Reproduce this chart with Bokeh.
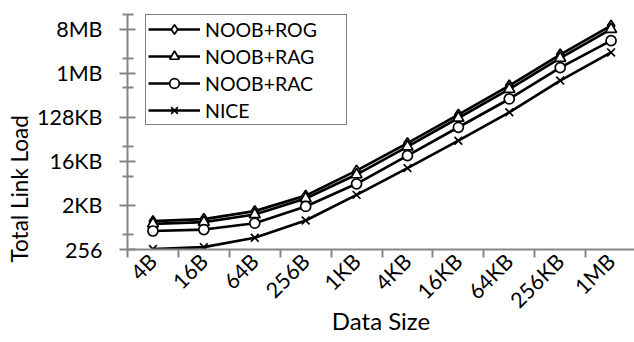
import numpy as np
from bokeh.plotting import figure
from bokeh.models import FixedTicker, Range1d, Legend, LegendItem, Title
from bokeh.embed import file_html
from bokeh.resources import INLINE

categories = ["4B", "16B", "64B", "256B", "1KB", "4KB", "16KB", "64KB", "256KB", "1MB"]
noob_rog = [975, 1075, 1563, 3258, 10590, 38700, 148500, 585800, 2529000, 9907000]
noob_rag = [861, 929, 1333, 2837, 8780, 32770, 126600, 496000, 2141000, 8389000]
noob_rac = [613, 657, 885, 1951, 5673, 21470, 81800, 311700, 1364500, 4885000]
nice = [261, 286, 446, 1003, 3373, 11910, 43540, 165900, 741500, 2806000]
series_names = ["NOOB+ROG", "NOOB+RAG", "NOOB+RAC", "NICE"]
series_markers = ["diamond", "triangle", "circle", "x"]
y_tick_values = [256, 2048, 16384, 131072, 1048576, 8388608]
y_tick_labels = ["256", "2KB", "16KB", "128KB", "1MB", "8MB"]
y_minor_values = [512, 8192, 32768, 524288, 2097152, 16777216]

FONT = "Lato"
AXIS_GRAY = "#868686"

x = np.arange(len(categories)) + 0.5

p = figure(width=634, height=342, output_backend="svg", toolbar_location=None,
           y_axis_type="log", x_range=Range1d(0, 9.96), y_range=Range1d(256, 16777216),
           min_border_left=127, min_border_top=14, min_border_right=0, min_border_bottom=93)
p.outline_line_color = None
p.xgrid.visible = False
p.ygrid.visible = False
p.background_fill_color = "white"
p.border_fill_color = "white"

items = []
marker_sizes = [11, 11, 10, 11]
for name, vals, mk, ms in zip(series_names, [noob_rog, noob_rag, noob_rac, nice], series_markers, marker_sizes):
    lr = p.line(x, vals, line_color="black", line_width=2.7)
    sr = p.scatter(x, vals, marker=mk, size=ms, fill_color="white", line_color="black", line_width=1.7)
    items.append(LegendItem(label=name, renderers=[lr, sr]))

legend = Legend(items=items, location=(18, 124), orientation="vertical",
                label_text_font=FONT, label_text_font_size="19.5px", label_text_color="black",
                glyph_width=52, glyph_height=24, label_height=24, label_width=139, spacing=3,
                padding=2, margin=0, label_standoff=5,
                border_line_color="black", border_line_width=1.5,
                background_fill_color="white", background_fill_alpha=1.0)
p.add_layout(legend)

# x axis
xa = p.xaxis[0]
xa.ticker = FixedTicker(ticks=list(x), minor_ticks=list(range(0, len(categories) + 1)))
xa.major_label_overrides = {float(xi): c for xi, c in zip(x, categories)}
xa.major_label_orientation = np.pi / 4
xa.major_tick_in = 0
xa.major_tick_out = 0
xa.minor_tick_in = 0
xa.minor_tick_out = 8
xa.axis_line_color = AXIS_GRAY
xa.axis_line_width = 2
xa.minor_tick_line_color = AXIS_GRAY
xa.minor_tick_line_width = 2
xa.major_label_text_font = FONT
xa.major_label_text_font_size = "21.5px"
xa.major_label_text_color = "black"
xa.major_label_standoff = 0
xa.axis_label = "Data Size"
xa.axis_label_text_font = FONT
xa.axis_label_text_font_size = "24px"
xa.axis_label_text_font_style = "normal"
xa.axis_label_text_color = "black"
xa.axis_label_standoff = -19

# y axis
ya = p.yaxis[0]
ya.ticker = FixedTicker(ticks=y_tick_values, minor_ticks=y_minor_values)
ya.major_label_overrides = dict(zip(y_tick_values, y_tick_labels))
ya.major_tick_in = 8
ya.major_tick_out = 8
ya.minor_tick_in = 6
ya.minor_tick_out = 5
ya.axis_line_color = AXIS_GRAY
ya.axis_line_width = 2
ya.major_tick_line_color = AXIS_GRAY
ya.major_tick_line_width = 2
ya.minor_tick_line_color = AXIS_GRAY
ya.minor_tick_line_width = 2
ya.major_label_text_font = FONT
ya.major_label_text_font_size = "21.5px"
ya.major_label_text_color = "black"
ya.major_label_standoff = 17

p.add_layout(Title(text="Total Link Load", align="left", offset=-13,
                   text_font=FONT, text_font_size="22.5px", text_font_style="normal",
                   text_color="black", standoff=2), "left")

open("out.html", "w").write(file_html(p, INLINE))
